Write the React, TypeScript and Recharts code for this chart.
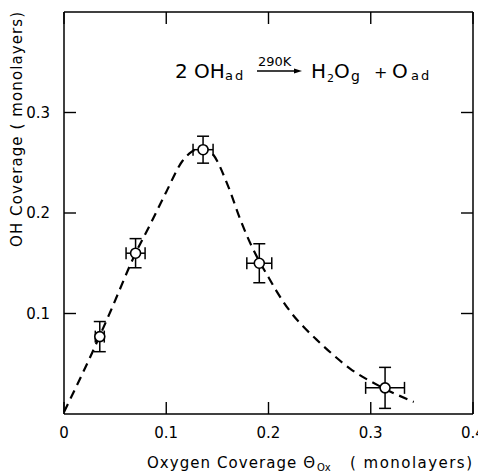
import { ComposedChart, Line, Scatter, XAxis, YAxis, ErrorBar } from 'recharts'

// dashed guide curve through the data
const curveX = [0, 0.028, 0.045, 0.07, 0.085, 0.1, 0.116, 0.125, 0.135, 0.146, 0.16, 0.173, 0.184, 0.191, 0.2, 0.208, 0.222, 0.234, 0.247, 0.262, 0.28, 0.31, 0.342]
const curveY = [0.002, 0.062, 0.101, 0.16, 0.19, 0.221, 0.252, 0.261, 0.265, 0.258, 0.228, 0.192, 0.166, 0.152, 0.136, 0.122, 0.101, 0.087, 0.074, 0.06, 0.045, 0.027, 0.012]

// measured points with error bars
const pointX = [0.035, 0.070, 0.136, 0.191, 0.314]
const pointY = [0.077, 0.160, 0.263, 0.150, 0.026]
const errX = [0.0044, 0.0093, 0.0098, 0.0122, 0.019]
const errY = [0.015, 0.0145, 0.0134, 0.0194, 0.0204]

const xTicks = [0, 0.1, 0.2, 0.3, 0.4]
const yTicks = [0.1, 0.2, 0.3]

const curveData = curveX.map((x, i) => ({ x, y: curveY[i] }))
const pointData = pointX.map((x, i) => ({ x, y: pointY[i], ex: errX[i], ey: errY[i] }))

const FONT = '"DejaVu Sans", sans-serif'
const fmt = (v: number) => (v === 0 ? '0' : v.toFixed(1))

const W = 478
const H = 473
const MARGIN = { top: 11, right: 4, bottom: 0, left: 0 }
const PLOT_TOP = MARGIN.top + 1
const PLOT_RIGHT = W - MARGIN.right - 1
const TICK_LEN = 12

const OpenCircle = (p: any) => (
  <circle cx={p.cx} cy={p.cy} r={5} fill="#fff" stroke="#000" strokeWidth={1.6} />
)

// ticks point into the frame (bottom + top, left + right), labels outside
const BottomTick = (p: any) => (
  <g>
    <line x1={p.x} x2={p.x} y1={p.y - 13} y2={p.y - 13 - TICK_LEN} stroke="#000" strokeWidth={1.4} />
    <line x1={p.x} x2={p.x} y1={PLOT_TOP} y2={PLOT_TOP + TICK_LEN} stroke="#000" strokeWidth={1.4} />
    <text x={p.x} y={p.y} dy="0.75em" textAnchor="middle" fontSize={15} fontFamily={FONT} fill="#000">
      {fmt(p.payload.value)}
    </text>
  </g>
)
const LeftTick = (p: any) => (
  <g>
    <line x1={p.x + 14} x2={p.x + 14 + TICK_LEN} y1={p.y} y2={p.y} stroke="#000" strokeWidth={1.4} />
    <line x1={PLOT_RIGHT - TICK_LEN} x2={PLOT_RIGHT} y1={p.y} y2={p.y} stroke="#000" strokeWidth={1.4} />
    <text x={p.x} y={p.y} dy="0.36em" textAnchor="end" fontSize={15} fontFamily={FONT} fill="#000">
      {fmt(p.payload.value)}
    </text>
  </g>
)

const axisLine = { stroke: '#000', strokeWidth: 1.5 }

export default function App() {
  return (
    <div style={{ position: 'absolute', left: 0, top: 0, width: W, height: H, background: '#fff', fontFamily: FONT }}>
      <ComposedChart width={W} height={H} margin={MARGIN}>
        <XAxis
          dataKey="x"
          type="number"
          domain={[0, 0.4]}
          ticks={xTicks}
          interval={0}
          height={59}
          tickSize={0}
          tickMargin={13}
          axisLine={axisLine}
          tickLine={false}
          tick={BottomTick}
        />
        <XAxis
          xAxisId="top"
          orientation="top"
          type="number"
          domain={[0, 0.4]}
          height={1}
          axisLine={axisLine}
          tickLine={false}
          tick={false}
        />
        <YAxis
          dataKey="y"
          type="number"
          domain={[0, 0.4]}
          ticks={yTicks}
          interval={0}
          width={64}
          tickSize={0}
          tickMargin={14}
          axisLine={axisLine}
          tickLine={false}
          tick={LeftTick}
        />
        <YAxis
          yAxisId="right"
          orientation="right"
          type="number"
          domain={[0, 0.4]}
          width={1}
          axisLine={axisLine}
          tickLine={false}
          tick={false}
        />
        <Line
          data={curveData}
          dataKey="y"
          type="monotone"
          stroke="#000"
          strokeWidth={2.2}
          strokeDasharray="9 6"
          dot={false}
          activeDot={false}
          isAnimationActive={false}
        />
        <Scatter data={pointData} dataKey="y" shape={OpenCircle} isAnimationActive={false}>
          <ErrorBar dataKey="ey" direction="y" width={6} stroke="#000" strokeWidth={1.5} />
          <ErrorBar dataKey="ex" direction="x" width={6} stroke="#000" strokeWidth={1.5} />
        </Scatter>
      </ComposedChart>

      <svg width={W} height={H} style={{ position: 'absolute', left: 0, top: 0, pointerEvents: 'none' }}>
        <g fontFamily={FONT} fill="#000">
          {/* reaction label */}
          <text x={175} y={78} fontSize={20}>2 OH</text>
          <text x={225} y={80} fontSize={13} letterSpacing={2}>ad</text>
          <text x={258} y={66} fontSize={13}>290K</text>
          <line x1={257} y1={71} x2={296} y2={71} stroke="#000" strokeWidth={1.3} />
          <path d="M294,68.5 L302,71 L294,73.5 Z" fill="#000" />
          <text x={311} y={78} fontSize={20}>H</text>
          <text x={327} y={82} fontSize={11}>2</text>
          <text x={334} y={78} fontSize={20}>O</text>
          <text x={351} y={81} fontSize={14}>g</text>
          <text x={374} y={78} fontSize={16}>+</text>
          <text x={392} y={78} fontSize={20}>O</text>
          <text x={411} y={80} fontSize={13} letterSpacing={2}>ad</text>

          {/* x title */}
          <text x={147} y={468} fontSize={15} textLength={168} lengthAdjust="spacing">Oxygen  Coverage  Θ</text>
          <text x={317} y={471} fontSize={10}>Ox</text>
          <text x={350} y={468} fontSize={15} textLength={122} lengthAdjust="spacing">( monolayers)</text>

          {/* y title */}
          <text transform="translate(22,247) rotate(-90)" x={0} y={0} fontSize={15} textLength={235} lengthAdjust="spacing">
            OH  Coverage  ( monolayers)
          </text>
        </g>
      </svg>
    </div>
  )
}
